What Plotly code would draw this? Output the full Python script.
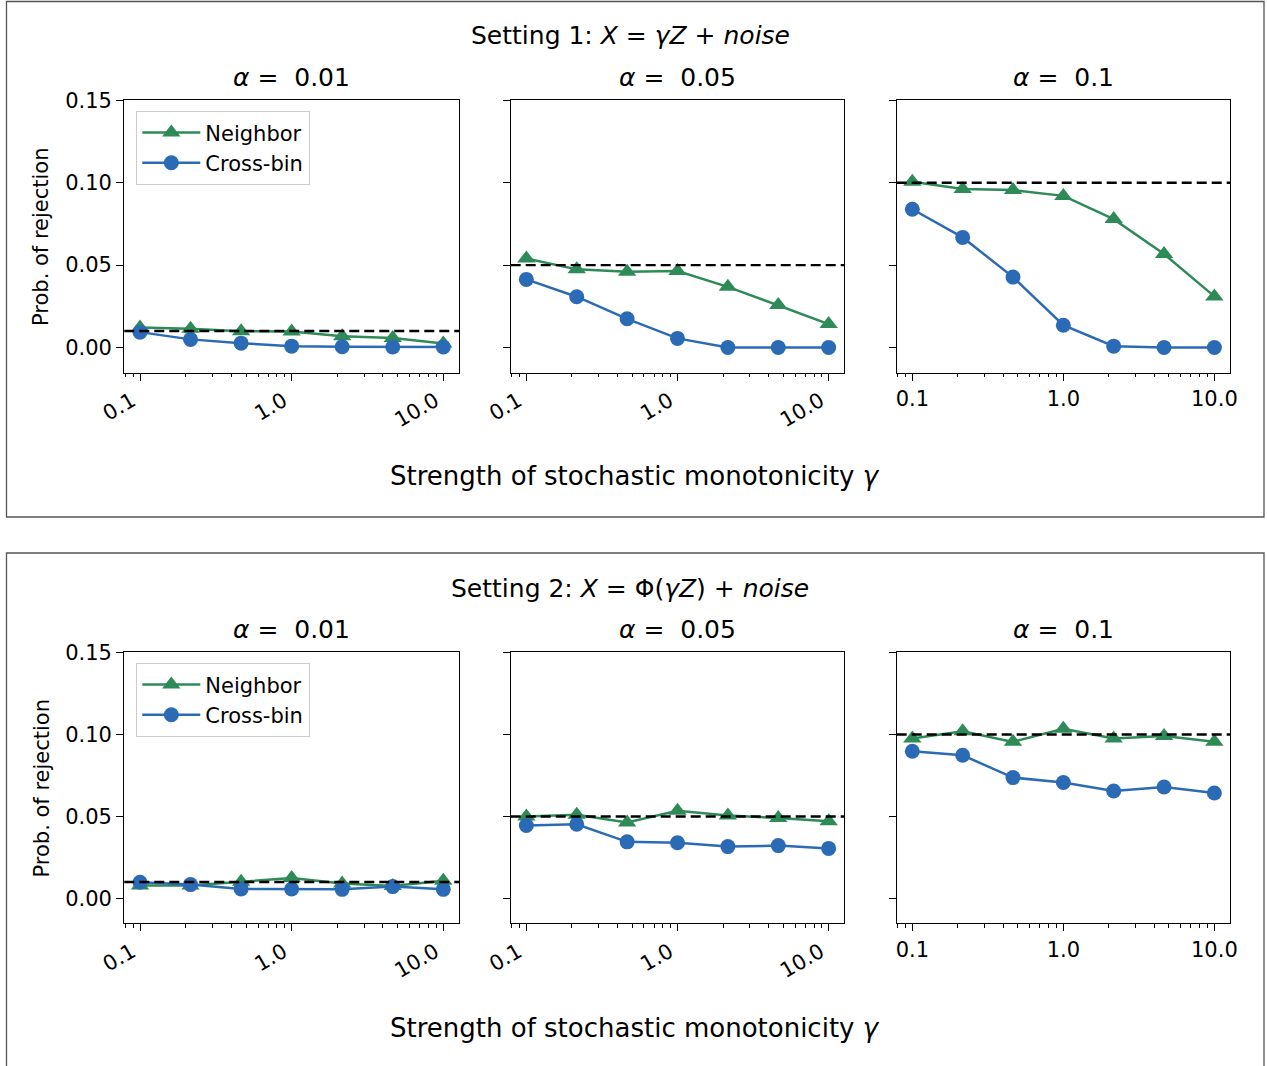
import plotly.graph_objects as go

W, H = 1267, 1066

# ---------------- data ----------------
gamma = [0.1, 0.2154, 0.4642, 1.0, 2.154, 4.642, 10.0]
alphas = [0.01, 0.05, 0.1]
alpha_labels = ["0.01", "0.05", "0.1"]
tick_vals = [0.1, 1.0, 10.0]
tick_text = ["0.1", "1.0", "10.0"]
y_tick_vals = [0.0, 0.05, 0.10, 0.15]
y_tick_text = ["0.00", "0.05", "0.10", "0.15"]
minor_vals = [0.08, 0.09, 0.2, 0.3, 0.4, 0.5, 0.6, 0.7, 0.8, 0.9,
              2, 3, 4, 5, 6, 7, 8, 9]

# Setting 1: X = gamma Z + noise
s1_neighbor_a001 = [0.0121, 0.0113, 0.0099, 0.0097, 0.0068, 0.0058, 0.0024]
s1_crossbin_a001 = [0.0093, 0.0049, 0.0026, 0.0008, 0.0004, 0.0003, 0.0003]
s1_neighbor_a005 = [0.0540, 0.0474, 0.0460, 0.0464, 0.0368, 0.0257, 0.0142]
s1_crossbin_a005 = [0.0413, 0.0308, 0.0174, 0.0055, 0.0000, 0.0000, 0.0000]
s1_neighbor_a010 = [0.1006, 0.0962, 0.0955, 0.0920, 0.0779, 0.0567, 0.0310]
s1_crossbin_a010 = [0.0839, 0.0668, 0.0427, 0.0135, 0.0008, 0.0000, 0.0000]

# Setting 2: X = Phi(gamma Z) + noise
s2_neighbor_a001 = [0.0078, 0.0078, 0.0101, 0.0125, 0.0091, 0.0076, 0.0107]
s2_crossbin_a001 = [0.0098, 0.0084, 0.0058, 0.0057, 0.0055, 0.0072, 0.0055]
s2_neighbor_a005 = [0.0500, 0.0510, 0.0463, 0.0535, 0.0505, 0.0490, 0.0470]
s2_crossbin_a005 = [0.0445, 0.0452, 0.0345, 0.0339, 0.0316, 0.0322, 0.0305]
s2_neighbor_a010 = [0.0975, 0.1020, 0.0955, 0.1035, 0.0975, 0.0990, 0.0955]
s2_crossbin_a010 = [0.0898, 0.0873, 0.0737, 0.0707, 0.0655, 0.0680, 0.0643]

neighbor = [[s1_neighbor_a001, s1_neighbor_a005, s1_neighbor_a010],
            [s2_neighbor_a001, s2_neighbor_a005, s2_neighbor_a010]]
crossbin = [[s1_crossbin_a001, s1_crossbin_a005, s1_crossbin_a010],
            [s2_crossbin_a001, s2_crossbin_a005, s2_crossbin_a010]]

setting_titles = ["Setting 1: <i>X</i> = <i>γZ</i> + <i>noise</i>",
                  "Setting 2: <i>X</i> = Φ(<i>γZ</i>) + <i>noise</i>"]
xlabel = "Strength of stochastic monotonicity <i>γ</i>"
ylabel = "Prob. of rejection"

# ---------------- style / layout ----------------
GREEN = "#2e8b57"
BLUE = "#2b6bb5"
FONT = "DejaVu Sans"

xdom_px = [(124.3, 459.0), (510.7, 844.3), (896.7, 1230.0)]
ydom_px = [(99.5, 372.5), (651.7, 923.3)]
row_offset = 552.0

def px_x(v):
    return v / W

def px_y(v):
    return 1 - v / H

fig = go.Figure()
layout = {}
shapes = []
annotations = []

for r in range(2):
    for c in range(3):
        idx = r * 3 + c + 1
        xa = "x" if idx == 1 else f"x{idx}"
        ya = "y" if idx == 1 else f"y{idx}"
        leg = "legend" if r == 0 else "legend2"
        show = (c == 0)
        fig.add_trace(go.Scatter(
            x=gamma, y=neighbor[r][c], xaxis=xa, yaxis=ya,
            mode="lines+markers", name="Neighbor",
            line=dict(color=GREEN, width=2.5),
            marker=dict(symbol="triangle-up", size=16, color=GREEN),
            showlegend=show, legend=leg))
        fig.add_trace(go.Scatter(
            x=gamma, y=crossbin[r][c], xaxis=xa, yaxis=ya,
            mode="lines+markers", name="Cross-bin",
            line=dict(color=BLUE, width=2.5),
            marker=dict(symbol="circle", size=15, color=BLUE),
            showlegend=show, legend=leg))

        x0, x1 = xdom_px[c]
        yt, yb = ydom_px[r]
        rotated = c < 2
        layout[f"xaxis{idx}" if idx > 1 else "xaxis"] = dict(
            type="log", range=[-1.1035, 1.1035],
            domain=[px_x(x0), px_x(x1)], anchor=ya, automargin=False,
            tickmode="array", tickvals=tick_vals, ticktext=tick_text,
            ticks="outside", ticklen=7, tickwidth=1.3, tickcolor="black",
            tickangle=-30 if rotated else 0,
            ticklabelshift=-8 if rotated else 0,
            tickfont=dict(family=FONT, size=21, color="black"),
            showline=True, linecolor="black", linewidth=1.3, mirror=True,
            showgrid=False, zeroline=False,
            minor=dict(tickmode="array", tickvals=minor_vals, ticks="outside",
                       ticklen=3.5, tickwidth=1, tickcolor="black", showgrid=False),
        )
        layout[f"yaxis{idx}" if idx > 1 else "yaxis"] = dict(
            range=[-0.0152, 0.1505],
            domain=[px_y(yb), px_y(yt)], anchor=xa, automargin=False,
            tickmode="array", tickvals=y_tick_vals, ticktext=y_tick_text,
            showticklabels=(c == 0),
            ticks="outside", ticklen=7, tickwidth=1.3, tickcolor="black",
            tickfont=dict(family=FONT, size=21, color="black"),
            showline=True, linecolor="black", linewidth=1.3, mirror=True,
            showgrid=False, zeroline=False,
        )
        # dashed alpha reference line
        shapes.append(dict(type="line", xref=f"{xa} domain", yref=ya,
                           x0=0, x1=1, y0=alphas[c], y1=alphas[c],
                           line=dict(color="black", width=2.4, dash="10px,5px"),
                           layer="above"))
        # subplot title
        annotations.append(dict(
            text=f"<i>α</i> =  {alpha_labels[c]}", xref="paper", yref="paper",
            x=px_x((x0 + x1) / 2), y=px_y(77 + r * row_offset),
            xanchor="center", yanchor="middle", showarrow=False,
            font=dict(family=FONT, size=25, color="black")))

    # setting title, x label, y label
    annotations.append(dict(
        text=setting_titles[r], xref="paper", yref="paper",
        x=px_x(630), y=px_y(36 + r * row_offset),
        xanchor="center", yanchor="middle", showarrow=False,
        font=dict(family=FONT, size=25, color="black")))
    annotations.append(dict(
        text=xlabel, xref="paper", yref="paper",
        x=px_x(635), y=px_y(476 + r * row_offset),
        xanchor="center", yanchor="middle", showarrow=False,
        font=dict(family=FONT, size=26, color="black")))
    yt, yb = ydom_px[r]
    annotations.append(dict(
        text=ylabel, xref="paper", yref="paper",
        x=px_x(41), y=px_y((yt + yb) / 2), textangle=-90,
        xanchor="center", yanchor="middle", showarrow=False,
        font=dict(family=FONT, size=21, color="black")))

# outer frames
shapes.append(dict(type="rect", xref="paper", yref="paper",
                   x0=px_x(6.5), x1=px_x(1264), y0=px_y(517), y1=px_y(1.5),
                   line=dict(color="#555555", width=1.3), layer="below"))
shapes.append(dict(type="rect", xref="paper", yref="paper",
                   x0=px_x(6.5), x1=px_x(1264), y0=px_y(1075), y1=px_y(553),
                   line=dict(color="#555555", width=1.3), layer="below"))

legend_style = dict(
    xanchor="left", yanchor="top",
    bgcolor="rgba(255,255,255,0.85)", bordercolor="#cccccc", borderwidth=1.3,
    font=dict(family=FONT, size=21, color="black"),
    tracegroupgap=6, itemsizing="trace", itemwidth=58,
)
layout["legend"] = dict(x=px_x(136), y=px_y(111), **legend_style)
layout["legend2"] = dict(x=px_x(136), y=px_y(111 + row_offset), **legend_style)

fig.update_layout(
    width=W, height=H, autosize=False,
    margin=dict(l=0, r=0, t=0, b=0, pad=0, autoexpand=False),
    paper_bgcolor="white", plot_bgcolor="white",
    font=dict(family=FONT, color="black"),
    shapes=shapes, annotations=annotations,
    **layout,
)

fig.write_html(
    "out.html",
    config={"displayModeBar": False},
    post_script="document.body.style.margin='0';document.body.style.overflow='hidden';",
)
